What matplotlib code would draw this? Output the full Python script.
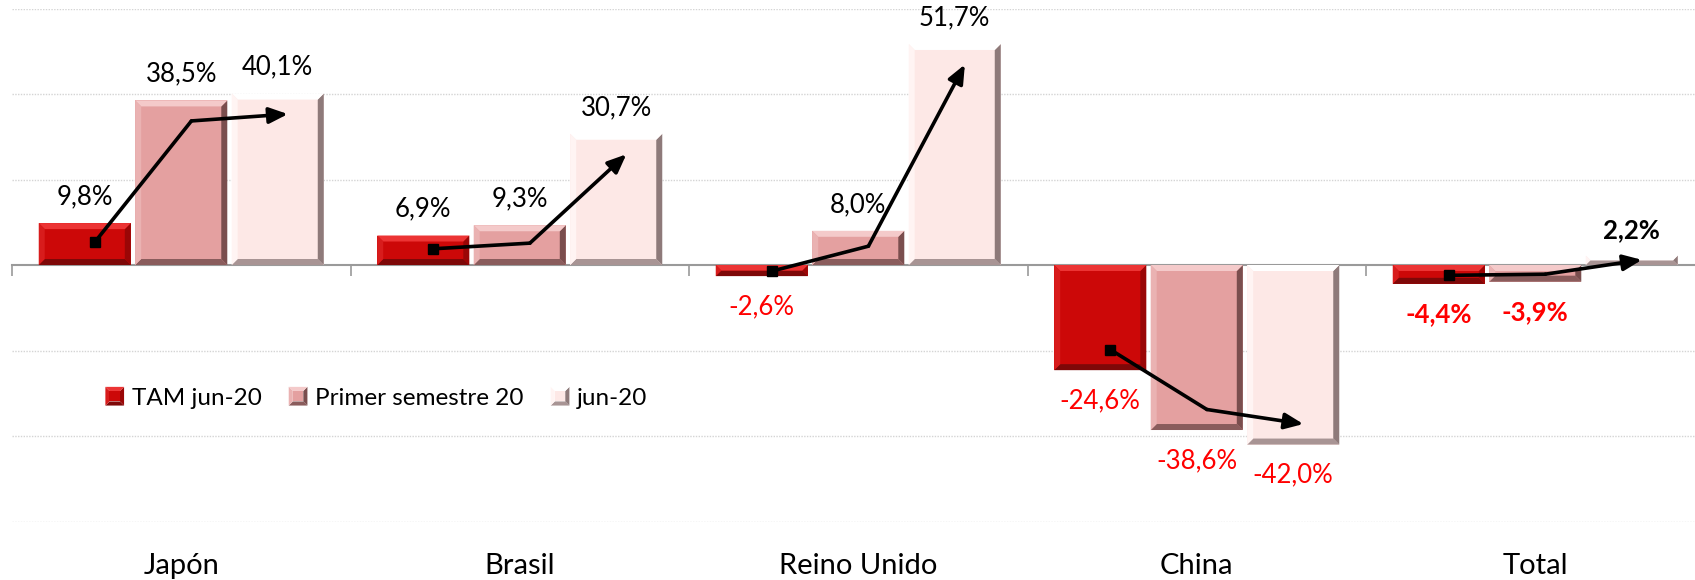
import numpy as np
import matplotlib
matplotlib.use("Agg")
import matplotlib.pyplot as plt
from matplotlib.patches import Polygon
from matplotlib.legend_handler import HandlerBase
import matplotlib.transforms as mtransforms

# ---- data ----
categories = ["Japón", "Brasil", "Reino Unido", "China", "Total"]
series_names = ["TAM jun-20", "Primer semestre 20", "jun-20"]
tam_jun20 = [9.8, 6.9, -2.6, -24.6, -4.4]
primer_semestre = [38.5, 9.3, 8.0, -38.6, -3.9]
jun20 = [40.1, 30.7, 51.7, -42.0, 2.2]

plt.rcParams["font.family"] = ["Lato", "DejaVu Sans"]

# colour sets: base, top, left, bottom, right
palettes = [
    ("#CC0808", "#EC3434", "#D81C1C", "#7E0808", "#9A0606"),
    ("#E4A0A0", "#F4CACA", "#EAB2B2", "#8A5C5C", "#7A4E4E"),
    ("#FDE8E6", "#FFFFFF", "#FFF4F3", "#A89494", "#8E7A7A"),
]

W, H = 1695, 580
fig = plt.figure(figsize=(W / 100, H / 100), dpi=100)
ax = fig.add_axes([12 / W, 58.5 / H, 1692.5 / W, 513 / H])
ax.set_xlim(-0.5, len(categories) - 0.5)
ax.set_ylim(-60, 60)

# grid and axis
ax.set_yticks([-60, -40, -20, 20, 40, 60])
ax.yaxis.grid(True, color="#D4D4D4", linestyle=(0, (1, 1)), linewidth=1.0)
ax.tick_params(axis="y", left=False, labelleft=False)
for s in ["left", "right", "top"]:
    ax.spines[s].set_visible(False)
ax.spines["bottom"].set_position(("data", 0))
ax.spines["bottom"].set_color("#9A9A9A")
ax.spines["bottom"].set_linewidth(1.5)
ax.spines["bottom"].set_zorder(1)
ax.set_xticks(np.arange(-0.5, len(categories) + 0.5, 1.0))
ax.tick_params(axis="x", direction="out", length=8, width=1.2, color="#9A9A9A",
               labelbottom=False)
ax.set_axisbelow(True)

x = np.arange(len(categories))
offset = 0.285
width = 0.272
series = [tam_jun20, primer_semestre, jun20]


def bevel(patch, cols, b=6.0):
    base, top, left, bottom, right = cols
    bb = patch.get_bbox()
    (X0, Y0) = ax.transData.transform((bb.x0, min(bb.y0, bb.y1)))
    (X1, Y1) = ax.transData.transform((bb.x1, max(bb.y0, bb.y1)))
    k = min(b, (Y1 - Y0) / 2.0, (X1 - X0) / 2.0)
    o = [(X0, Y0), (X1, Y0), (X1, Y1), (X0, Y1)]
    i = [(X0 + k, Y0 + k), (X1 - k, Y0 + k), (X1 - k, Y1 - k), (X0 + k, Y1 - k)]
    faces = [
        ([o[0], o[1], i[1], i[0]], bottom),
        ([o[1], o[2], i[2], i[1]], right),
        ([o[2], o[3], i[3], i[2]], top),
        ([o[3], o[0], i[0], i[3]], left),
    ]
    for pts, c in faces:
        ax.add_patch(Polygon(pts, closed=True, transform=None, facecolor=c,
                             edgecolor="none", zorder=3))


fig.canvas.draw()
for j, vals in enumerate(series):
    bars = ax.bar(x + (j - 1) * offset, vals, width=width, color=palettes[j][0],
                  edgecolor="none", zorder=2)
    for p in bars.patches:
        bevel(p, palettes[j])

# value labels
for j, vals in enumerate(series):
    for i, v in enumerate(vals):
        txt = f"{v:.1f}%".replace(".", ",")
        bold = categories[i] == "Total"
        if v >= 0:
            ax.annotate(txt, (x[i] + (j - 1) * offset, v), xytext=(0, 10),
                        textcoords="offset points", ha="center", va="bottom",
                        fontsize=18.5, color="black",
                        fontweight="bold" if bold else "normal", zorder=5)
        else:
            ax.annotate(txt, (x[i] + (j - 1) * offset, v), xytext=(0, -13),
                        textcoords="offset points", ha="center", va="top",
                        fontsize=18.5, color="#FF0000",
                        fontweight="bold" if bold else "normal", zorder=5)

# trend arrows inside each group
for i in range(len(categories)):
    vals = [s[i] for s in series]
    xs = [x[i] + (j - 1) * offset + 0.03 for j in range(3)]
    ys = [v - np.sign(v) * min(4.8, 0.45 * abs(v)) for v in vals]
    ax.plot(xs[:2], ys[:2], color="black", linewidth=2.6,
            solid_capstyle="round", solid_joinstyle="round", zorder=6)
    ax.plot(xs[0], ys[0], marker="s", markersize=6.5, color="black", zorder=7)
    ax.annotate("", xy=(xs[2], ys[2]), xytext=(xs[1], ys[1]),
                arrowprops=dict(arrowstyle="-|>,head_length=0.75,head_width=0.32",
                                color="black", linewidth=2.6,
                                shrinkA=0, shrinkB=0, mutation_scale=15),
                zorder=6)

# category labels
trans = mtransforms.blended_transform_factory(ax.transData, ax.transAxes)
for i, c in enumerate(categories):
    ax.text(x[i], -0.087, c, transform=trans, ha="center", va="center",
            fontsize=21, color="black")


# legend with bevelled swatches
class Swatch:
    def __init__(self, cols):
        self.cols = cols


class SwatchHandler(HandlerBase):
    def create_artists(self, legend, orig_handle, xdescent, ydescent, width,
                       height, fontsize, trans):
        base, top, left, bottom, right = orig_handle.cols
        s = height * 1.05
        x0 = -xdescent + (width - s) / 2
        y0 = -ydescent + (height - s) / 2
        k = s * 0.22
        o = [(x0, y0), (x0 + s, y0), (x0 + s, y0 + s), (x0, y0 + s)]
        ii = [(x0 + k, y0 + k), (x0 + s - k, y0 + k), (x0 + s - k, y0 + s - k),
              (x0 + k, y0 + s - k)]
        arts = []
        for pts, c in [([o[0], o[1], ii[1], ii[0]], bottom),
                       ([o[1], o[2], ii[2], ii[1]], right),
                       ([o[2], o[3], ii[3], ii[2]], top),
                       ([o[3], o[0], ii[0], ii[3]], left),
                       (ii, base)]:
            p = Polygon(pts, closed=True, facecolor=c, edgecolor="none",
                        transform=trans)
            arts.append(p)
        return arts


handles = [Swatch(p) for p in palettes]
fig.legend(handles, series_names, handler_map={Swatch: SwatchHandler()},
           loc="center left", bbox_to_anchor=(105 / W, (H - 398) / H),
           bbox_transform=fig.transFigure, ncol=3, frameon=False,
           fontsize=17.5, handlelength=0.8, handleheight=0.75,
           handletextpad=0.3, columnspacing=1.1, borderpad=0, borderaxespad=0)

fig.savefig("out.png", dpi=100)
